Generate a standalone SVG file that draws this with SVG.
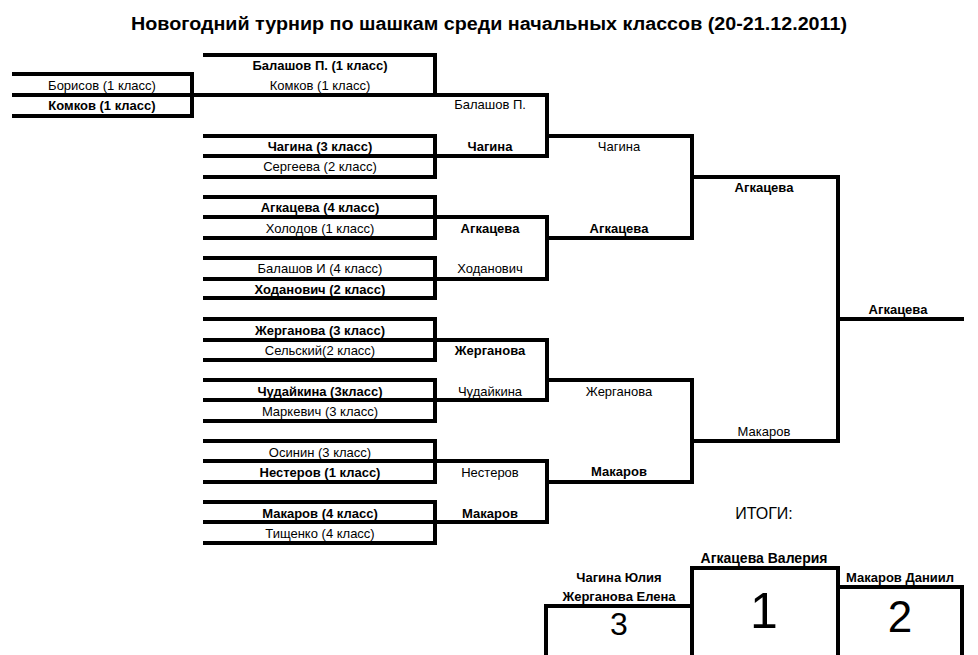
<svg xmlns="http://www.w3.org/2000/svg" width="978" height="655" viewBox="0 0 978 655">
<style>
text{font-family:"Liberation Sans",Arial,sans-serif;font-size:13px;text-anchor:middle;fill:#000}
.b{font-weight:bold}
#lines path{fill:none;stroke:#000;stroke-width:4;stroke-linecap:square}
</style>
<rect width="978" height="655" fill="#fff"/>
<text x="489" y="30" class="b" style="font-size:18px" textLength="716" lengthAdjust="spacingAndGlyphs">Новогодний турнир по шашкам среди начальных классов (20-21.12.2011)</text>
<g id="lines">
<path d="M14 74H192V116H14M14 95H547M205 55H435V95"/>
<path d="M205 136H435V177H205M205 156H547V95M547 136H692"/>
<path d="M205 197H435V238H205M205 217H547M205 258H435V298H205M205 279H547V217M547 238H692V136M692 177H838"/>
<path d="M205 319H435V360H205M205 340H547M205 380H435V421H205M205 400H547V340M547 380H692"/>
<path d="M205 441H435V482H205M205 461H547M205 502H435V543H205M205 522H547V461M547 482H692V380M692 441H838V177M838 319H962"/>
<path d="M546 655V606H692V568H838V587H962V655M692 606V655M838 587V655"/>
</g>
<g id="n1"><text x="320" y="70" class="b">Балашов П. (1 класс)</text><text x="320" y="90">Комков (1 класс)</text></g>
<g id="n0"><text x="102" y="90">Борисов (1 класс)</text><text x="102" y="110" class="b">Комков (1 класс)</text></g>
<g id="n2"><text x="320" y="151" class="b">Чагина (3 класс)</text><text x="320" y="171">Сергеева (2 класс)</text></g>
<g id="n3"><text x="320" y="212" class="b">Агкацева (4 класс)</text><text x="320" y="233">Холодов (1 класс)</text></g>
<g id="n4"><text x="320" y="273">Балашов И (4 класс)</text><text x="320" y="294" class="b">Ходанович (2 класс)</text></g>
<g id="n5"><text x="320" y="335" class="b">Жерганова (3 класс)</text><text x="320" y="355">Сельский(2 класс)</text></g>
<g id="n6"><text x="320" y="396" class="b">Чудайкина (3класс)</text><text x="320" y="416">Маркевич (3 класс)</text></g>
<g id="n7"><text x="320" y="457">Осинин (3 класс)</text><text x="320" y="477" class="b">Нестеров (1 класс)</text></g>
<g id="n8"><text x="320" y="518" class="b">Макаров (4 класс)</text><text x="320" y="538">Тищенко (4 класс)</text></g>
<g id="r2">
<text x="490" y="109">Балашов П.</text><text x="490" y="151" class="b">Чагина</text>
<text x="490" y="233" class="b">Агкацева</text><text x="490" y="273">Ходанович</text>
<text x="490" y="355" class="b">Жерганова</text><text x="490" y="396">Чудайкина</text>
<text x="490" y="477">Нестеров</text><text x="490" y="518" class="b">Макаров</text>
</g>
<g id="r3">
<text x="619" y="151">Чагина</text><text x="619" y="233" class="b">Агкацева</text>
<text x="619" y="396">Жерганова</text><text x="619" y="476" class="b">Макаров</text>
</g>
<g id="r4"><text x="764" y="192" class="b">Агкацева</text><text x="764" y="436">Макаров</text><text x="898" y="314" class="b">Агкацева</text></g>
<g id="podium">
<text x="764" y="519" style="font-size:16px">ИТОГИ:</text>
<text x="764" y="563" class="b" style="font-size:14px">Агкацева Валерия</text>
<text x="619" y="582" class="b">Чагина Юлия</text>
<text x="619" y="601" class="b">Жерганова Елена</text>
<text x="900" y="582" class="b">Макаров Даниил</text>
<text x="764" y="628" style="font-size:50px">1</text>
<text x="619" y="635" style="font-size:32px">3</text>
<text x="900" y="632" style="font-size:44px">2</text>
</g>
</svg>
